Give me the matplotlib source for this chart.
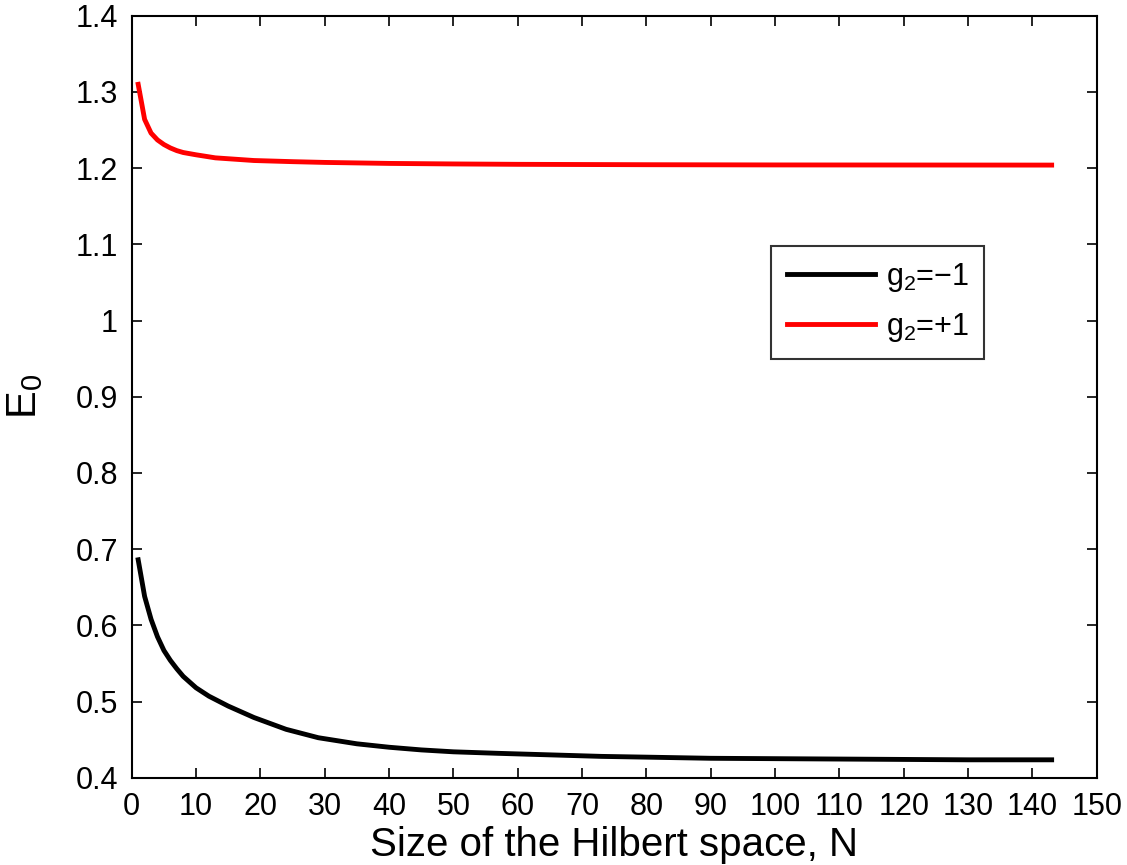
import numpy as np
import matplotlib
matplotlib.use("Agg")
import matplotlib.pyplot as plt

plt.rcParams['font.family'] = ['Liberation Sans', 'DejaVu Sans']
plt.rcParams['mathtext.fontset'] = 'custom'
plt.rcParams['mathtext.rm'] = 'Liberation Sans'
plt.rcParams['mathtext.it'] = 'Liberation Sans'
plt.rcParams['mathtext.default'] = 'regular'

# values
n_neg = [1, 2, 3, 4, 5, 6, 7, 8, 10, 12, 15, 19, 24, 29, 35, 40, 45, 50,
         57, 65, 73, 80, 90, 100, 110, 120, 130, 143]
e_neg = [0.686, 0.638, 0.608, 0.585, 0.567, 0.554, 0.543, 0.533, 0.518,
         0.507, 0.494, 0.479, 0.4635, 0.4525, 0.4445, 0.440, 0.4365, 0.434,
         0.432, 0.430, 0.428, 0.427, 0.4255, 0.425, 0.4245, 0.424, 0.4235,
         0.4235]

n_pos = [1, 2, 3, 4, 5, 6, 7, 8, 10, 13, 19, 25, 30, 40, 50, 60, 80, 100, 143]
e_pos = [1.310, 1.264, 1.246, 1.237, 1.231, 1.2265, 1.223, 1.2205, 1.2175,
         1.2135, 1.210, 1.2085, 1.2075, 1.2062, 1.2055, 1.205, 1.2045,
         1.2042, 1.204]

labels = ['g$_2$=\u22121', 'g$_2$=+1']

fig = plt.figure(figsize=(11.27, 8.65), dpi=100)
ax = fig.add_axes([0.1169, 0.1009, 0.8562, 0.8809])

ax.plot(n_neg, e_neg, color='black', linewidth=3.5, label=labels[0])
ax.plot(n_pos, e_pos, color='red', linewidth=3.5, label=labels[1])

ax.set_xlim(0, 150)
ax.set_ylim(0.4, 1.4)
ax.set_xticks(np.arange(0, 151, 10))
ax.set_yticks(np.arange(0.4, 1.41, 0.1))
ax.set_yticklabels(['0.4', '0.5', '0.6', '0.7', '0.8', '0.9', '1',
                    '1.1', '1.2', '1.3', '1.4'])
ax.tick_params(direction='in', length=7, width=1.2, labelsize=22,
               top=True, right=True, pad=10)
for s in ax.spines.values():
    s.set_linewidth(1.5)

ax.set_xlabel('Size of the Hilbert space, N', fontsize=29, labelpad=3)
ax.set_ylabel('E$_0$', fontsize=30, labelpad=22)

leg = ax.legend(loc='upper left', bbox_to_anchor=(0.663, 0.698), fontsize=22,
                frameon=True, fancybox=False, edgecolor='black',
                handlelength=2.9, handletextpad=0.35, borderpad=0.5,
                labelspacing=0.55, borderaxespad=0)
leg.get_frame().set_linewidth(1.5)

fig.savefig('out.png', dpi=100)
